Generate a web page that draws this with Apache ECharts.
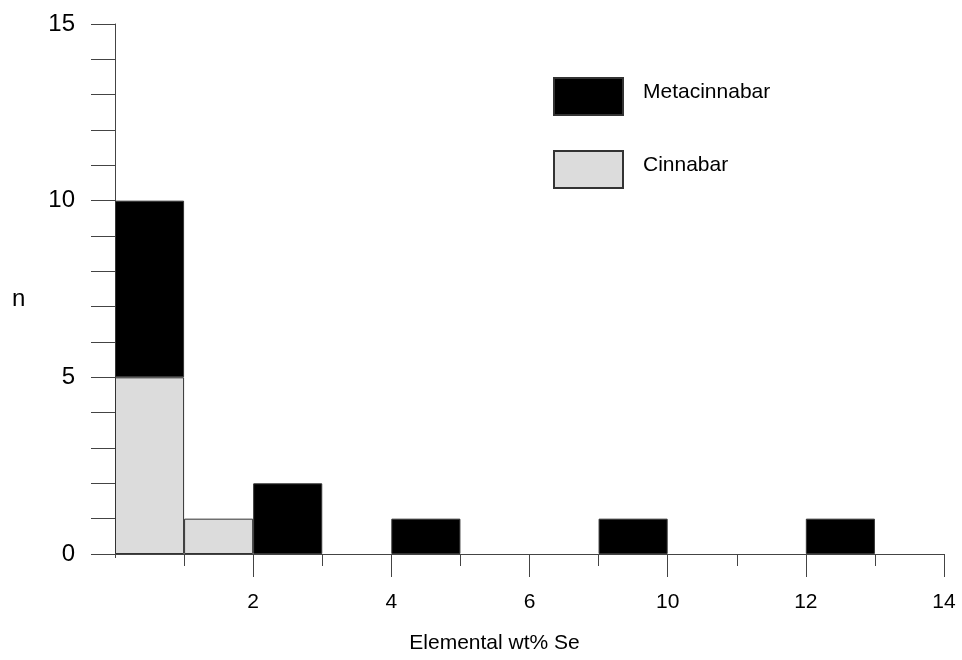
<!DOCTYPE html>
<html>
<head>
<meta charset="utf-8">
<script src="https://cdn.jsdelivr.net/npm/echarts@6/dist/echarts.min.js"></script>
<style>html,body{margin:0;padding:0;background:#fff}#chart{width:962px;height:660px}</style>
</head>
<body>
<div id="chart"></div>
<script>
// 12 histogram bins
const bins = ['b1','b2','b3','b4','b5','b6','b7','b8','b9','b10','b11','b12'];
// labels at the 13 bin boundaries
const boundaryLabels = ['', '', '2', '', '4', '', '6', '', '10', '', '12', '', '14'];
const cinnabar =     [5, 1, 0, 0, 0, 0, 0, 0, 0, 0, 0, 0];
const metacinnabar = [5, 0, 2, 0, 1, 0, 0, 1, 0, 0, 1, 0];
const yMin = 0, yMax = 15, yStep = 5;

const FONT = 'Liberation Sans, Arial, sans-serif';
const AX = '#444';
const chart = echarts.init(document.getElementById('chart'));
const nz = v => (v === 0 ? null : v);

chart.setOption({
  animation: false,
  textStyle: { fontFamily: FONT },
  grid: { left: 115, right: 18, top: 24, bottom: 106, containLabel: false, outerBoundsMode: 'none' },
  legend: {
    orient: 'vertical', left: 553, top: 77, padding: 0,
    itemWidth: 69, itemHeight: 37, itemGap: 34, icon: 'rect',
    data: ['Metacinnabar', 'Cinnabar'],
    formatter: '{a|{name}}',
    textStyle: {
      fontSize: 21, color: '#000', fontFamily: FONT,
      rich: { a: { fontSize: 21, color: '#000', fontFamily: FONT, padding: [0, 0, 8, 15] } }
    }
  },
  graphic: [
    { type: 'text', left: 12, top: 287, style: { text: 'n', fontSize: 24, fill: '#000', fontFamily: FONT } }
  ],
  xAxis: [
    { type: 'category', data: bins, show: false },
    {
      type: 'category', data: boundaryLabels, boundaryGap: false, position: 'bottom',
      axisLine: { show: true, onZero: false, lineStyle: { color: AX, width: 1 } },
      axisTick: { show: true, length: 23, interval: (i) => i > 0 && i % 2 === 0, lineStyle: { color: AX } },
      axisLabel: { interval: 0, margin: 38, fontSize: 21, color: '#000', fontFamily: FONT },
      splitLine: { show: false },
      name: 'Elemental wt% Se', nameLocation: 'middle', nameGap: 79,
      nameTextStyle: { fontSize: 21, color: '#000', fontFamily: FONT, padding: [0, 70, 0, 0] }
    },
    {
      type: 'category', data: boundaryLabels, boundaryGap: false, position: 'bottom',
      axisLine: { show: false, onZero: false },
      axisTick: { show: true, length: 12, interval: (i) => i % 2 === 1, lineStyle: { color: AX } },
      axisLabel: { show: false }, splitLine: { show: false }
    },
    {
      type: 'category', data: boundaryLabels, boundaryGap: false, position: 'bottom',
      axisLine: { show: false, onZero: false },
      axisTick: { show: true, length: 4, interval: (i) => i === 0, lineStyle: { color: AX } },
      axisLabel: { show: false }, splitLine: { show: false }
    }
  ],
  yAxis: {
    type: 'value', min: yMin, max: yMax, interval: yStep,
    axisLine: { show: true, lineStyle: { color: AX, width: 1 } },
    axisTick: { show: true, length: 24, lineStyle: { color: AX } },
    minorTick: { show: true, splitNumber: 5, length: 24, lineStyle: { color: AX } },
    splitLine: { show: false }, minorSplitLine: { show: false },
    axisLabel: { fontSize: 24, color: '#000', margin: 40, fontFamily: FONT }
  },
  series: [
    {
      name: 'Cinnabar', type: 'bar', stack: 'n', xAxisIndex: 0,
      barCategoryGap: '0%', barGap: '0%',
      data: cinnabar.map(nz),
      itemStyle: { color: '#dcdcdc', borderColor: '#333', borderWidth: 1 }
    },
    {
      name: 'Metacinnabar', type: 'bar', stack: 'n', xAxisIndex: 0,
      barCategoryGap: '0%', barGap: '0%',
      data: metacinnabar.map(nz),
      itemStyle: { color: '#000', borderColor: '#333', borderWidth: 1 }
    }
  ]
});
</script>
</body>
</html>
